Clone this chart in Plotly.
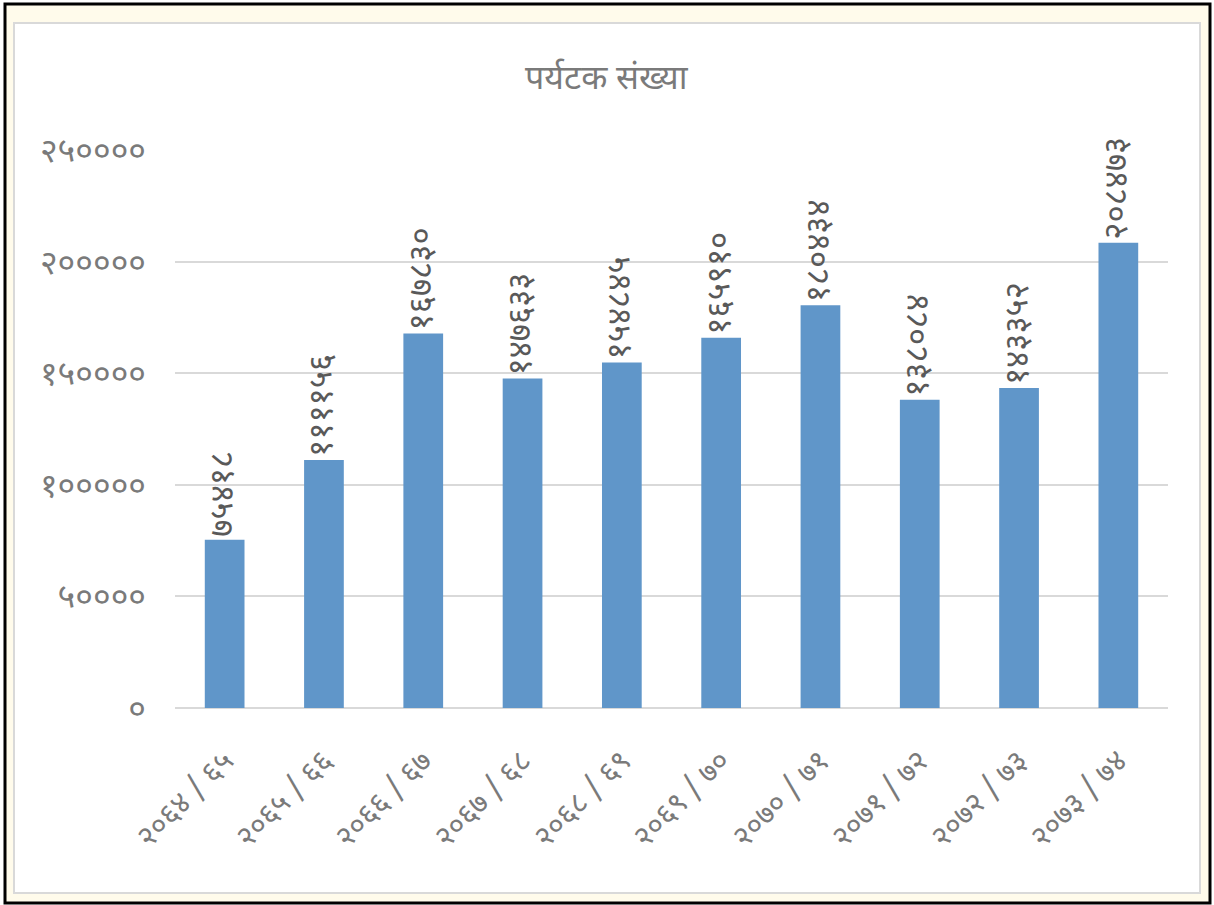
import plotly.graph_objects as go

categories = ["२०६४ / ६५", "२०६५ / ६६", "२०६६ / ६७", "२०६७ / ६८", "२०६८ / ६९",
              "२०६९ / ७०", "२०७० / ७१", "२०७१ / ७२", "२०७२ / ७३", "२०७३ / ७४"]
values = [75418, 111156, 167830, 147633, 154845, 165910, 180434, 138084, 143352, 208473]
value_labels = ["७५४१८", "११११५६", "१६७८३०", "१४७६३३", "१५४८४५",
                "१६५९१०", "१८०४३४", "१३८०८४", "१४३३५२", "२०८४७३"]
y_tickvals = [0, 50000, 100000, 150000, 200000, 250000]
y_ticktext = ["०", "५००००", "१०००००", "१५००००", "२०००००", "२५००००"]
title_text = "पर्यटक संख्या"

W, H = 1214, 905
L, R, T, B = 175, 1168, 150, 708

def px(x):
    return (x - L) / (R - L)

def py(y):
    return (B - y) / (B - T)

FONT = "Noto Sans Devanagari, Lohit Devanagari, Noto Sans, sans-serif"
GRAY = "#595959"
LIGHT = "#7A7A7A"

fig = go.Figure(go.Bar(
    x=categories, y=values,
    marker=dict(color="#6096C9", line=dict(width=0)),
    text=value_labels, textposition="outside", textangle=-90,
    constraintext="none",
    textfont=dict(family=FONT, size=33, color=GRAY),
    cliponaxis=False, width=0.4,
))

fig.update_layout(
    width=W, height=H,
    margin=dict(l=L, r=W - R, t=T, b=H - B, autoexpand=False),
    paper_bgcolor="white", plot_bgcolor="rgba(0,0,0,0)",
    showlegend=False,
    font=dict(family=FONT, color=GRAY),
    shapes=[
        dict(type="rect", xref="paper", yref="paper", layer="below",
             x0=px(5), x1=px(1210), y0=py(903), y1=py(4),
             line=dict(color="black", width=3), fillcolor="#FFFBEB"),
        dict(type="rect", xref="paper", yref="paper", layer="below",
             x0=px(14), x1=px(1200), y0=py(893), y1=py(23),
             line=dict(color="#D9D9D9", width=2), fillcolor="white"),
    ],
    annotations=[
        dict(text=title_text, xref="paper", yref="paper", x=px(607), y=py(80),
             showarrow=False, xanchor="center", yanchor="middle",
             font=dict(family=FONT, size=34, color=LIGHT)),
    ],
)

fig.update_yaxes(range=[0, 250000], tickvals=y_tickvals, ticktext=y_ticktext,
                 showgrid=True, gridcolor="#D9D9D9", gridwidth=2,
                 zeroline=True, zerolinecolor="#D9D9D9", zerolinewidth=2,
                 showline=False, ticks="", ticklabelstandoff=28,
                 tickfont=dict(family=FONT, size=34, color=LIGHT))
fig.update_xaxes(tickangle=-45, showline=False, ticks="", ticklabelstandoff=28,
                 tickfont=dict(family=FONT, size=30, color=LIGHT))

fig.write_html("out.html", config={"displayModeBar": False})
with open("out.html", "r", encoding="utf-8") as f:
    html = f.read()
html = html.replace("<body>", '<body style="margin:0;overflow:hidden">', 1)
with open("out.html", "w", encoding="utf-8") as f:
    f.write(html)
